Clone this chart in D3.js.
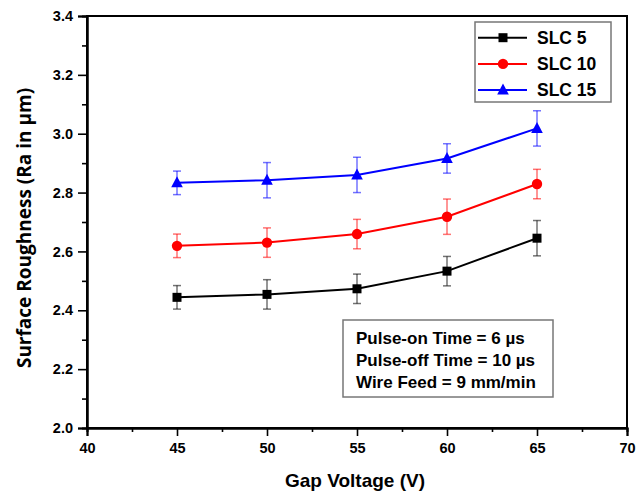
<!DOCTYPE html>
<html><head><meta charset="utf-8">
<script src="https://cdn.jsdelivr.net/npm/d3@7"></script>
<style>body{margin:0;background:#fff}</style>
</head><body>
<svg id="c" width="642" height="495"></svg>
<script>
const voltages = [45, 50, 55, 60, 65];
const slc5 = [2.444, 2.454, 2.473, 2.533, 2.645];
const slc5Err = [0.04, 0.05, 0.05, 0.05, 0.06];
const slc10 = [2.619, 2.630, 2.659, 2.718, 2.829];
const slc10Err = [0.04, 0.05, 0.05, 0.06, 0.05];
const slc15 = [2.833, 2.842, 2.860, 2.916, 3.018];
const slc15Err = [0.04, 0.06, 0.06, 0.05, 0.06];
const seriesNames = ["SLC 5", "SLC 10", "SLC 15"];
const xTicks = [40, 45, 50, 55, 60, 65, 70];
const yTicks = [2.0, 2.2, 2.4, 2.6, 2.8, 3.0, 3.2, 3.4];
const notes = ["Pulse-on Time = 6 µs", "Pulse-off Time = 10 µs", "Wire Feed = 9 mm/min"];

const series = [
  {name: seriesNames[0], vals: slc5, err: slc5Err, color: "#000000", shape: "square"},
  {name: seriesNames[1], vals: slc10, err: slc10Err, color: "#ff0000", shape: "circle"},
  {name: seriesNames[2], vals: slc15, err: slc15Err, color: "#0000ff", shape: "triangle"}
];

const svg = d3.select("#c");
const L = 87, R = 627, T = 16, B = 428;
const x = d3.scaleLinear().domain([40, 70]).range([L, R]);
const y = d3.scaleLinear().domain([2.0, 3.4]).range([B, T]);
const font = "Arial, 'Liberation Sans', sans-serif";

// frame
svg.append("rect").attr("x", L).attr("y", T).attr("width", R - L).attr("height", B - T)
  .attr("fill", "none").attr("stroke", "#000").attr("stroke-width", 2);

// x axis
const xAxis = d3.axisBottom(x).tickValues(xTicks).tickFormat(d3.format("d")).tickSize(8).tickPadding(7);
svg.append("g").attr("transform", `translate(0,${B})`).call(xAxis);
const xMinor = d3.axisBottom(x).tickValues(d3.range(42.5, 70, 5)).tickFormat("").tickSize(4);
svg.append("g").attr("transform", `translate(0,${B})`).call(xMinor);
// y axis
const yAxis = d3.axisLeft(y).tickValues(yTicks).tickFormat(d3.format(".1f")).tickSize(9).tickPadding(5);
svg.append("g").attr("transform", `translate(${L},0)`).call(yAxis);
const yMinor = d3.axisLeft(y).tickValues(d3.range(2.1, 3.4, 0.2)).tickFormat("").tickSize(5);
svg.append("g").attr("transform", `translate(${L},0)`).call(yMinor);

svg.selectAll(".domain").attr("stroke", "#000").attr("stroke-width", 2);
svg.selectAll(".tick line").attr("stroke", "#000").attr("stroke-width", 1.6);
svg.selectAll(".tick text").attr("font-family", font).attr("font-weight", "bold")
  .attr("font-size", 14.5).attr("fill", "#000");

// axis titles
svg.append("text").attr("x", 355).attr("y", 487).attr("text-anchor", "middle")
  .attr("font-family", font).attr("font-weight", "bold").attr("font-size", 19)
  .text("Gap Voltage (V)");
svg.append("text").attr("transform", `translate(31,228) rotate(-90)`)
  .attr("text-anchor", "middle").attr("font-family", "'Open Sans', sans-serif")
  .attr("font-weight", "bold").attr("font-size", 19).text("Surface Roughness (Ra in µm)");

function marker(g, shape, cx, cy, color) {
  if (shape === "square") {
    g.append("rect").attr("x", cx - 4.5).attr("y", cy - 4.5).attr("width", 9).attr("height", 9).attr("fill", color);
  } else if (shape === "circle") {
    g.append("circle").attr("cx", cx).attr("cy", cy).attr("r", 5.2).attr("fill", color);
  } else {
    g.append("path").attr("d", `M${cx},${cy - 6.5}L${cx + 5.8},${cy + 4.5}L${cx - 5.8},${cy + 4.5}Z`).attr("fill", color);
  }
}

const line = d3.line().x(d => x(d[0])).y(d => y(d[1]));
series.forEach(s => {
  const g = svg.append("g");
  const pts = voltages.map((v, i) => [v, s.vals[i], s.err[i]]);
  pts.forEach(p => {
    const cx = x(p[0]), y1 = y(p[1] + p[2]), y2 = y(p[1] - p[2]);
    const eg = g.append("g").attr("stroke", s.color).attr("stroke-opacity", 0.55).attr("stroke-width", 1.5);
    eg.append("line").attr("x1", cx).attr("x2", cx).attr("y1", y1).attr("y2", y2);
    eg.append("line").attr("x1", cx - 4).attr("x2", cx + 4).attr("y1", y1).attr("y2", y1);
    eg.append("line").attr("x1", cx - 4).attr("x2", cx + 4).attr("y1", y2).attr("y2", y2);
  });
  g.append("path").attr("d", line(pts)).attr("fill", "none").attr("stroke", s.color).attr("stroke-width", 2);
  pts.forEach(p => marker(g, s.shape, x(p[0]), y(p[1]), s.color));
});

// legend
const lg = svg.append("g");
lg.append("rect").attr("x", 475).attr("y", 22).attr("width", 136).attr("height", 80)
  .attr("fill", "#fff").attr("stroke", "#777").attr("stroke-width", 1.5);
series.forEach((s, i) => {
  const cy = 37.7 + i * 26.2;
  lg.append("line").attr("x1", 478).attr("x2", 527).attr("y1", cy).attr("y2", cy)
    .attr("stroke", s.color).attr("stroke-width", 2);
  marker(lg, s.shape, 503, cy, s.color);
  lg.append("text").attr("x", 537).attr("y", cy + 6.3).attr("font-family", font)
    .attr("font-weight", "bold").attr("font-size", 17.5).attr("fill", "#000").text(s.name);
});

// notes box
const ng = svg.append("g");
ng.append("rect").attr("x", 343).attr("y", 320).attr("width", 210).attr("height", 77)
  .attr("fill", "#fff").attr("stroke", "#777").attr("stroke-width", 1.5);
notes.forEach((t, i) => {
  ng.append("text").attr("x", 356).attr("y", 344 + i * 22.2).attr("font-family", font)
    .attr("font-weight", "bold").attr("font-size", 17).attr("fill", "#000").text(t);
});
</script>
</body></html>
